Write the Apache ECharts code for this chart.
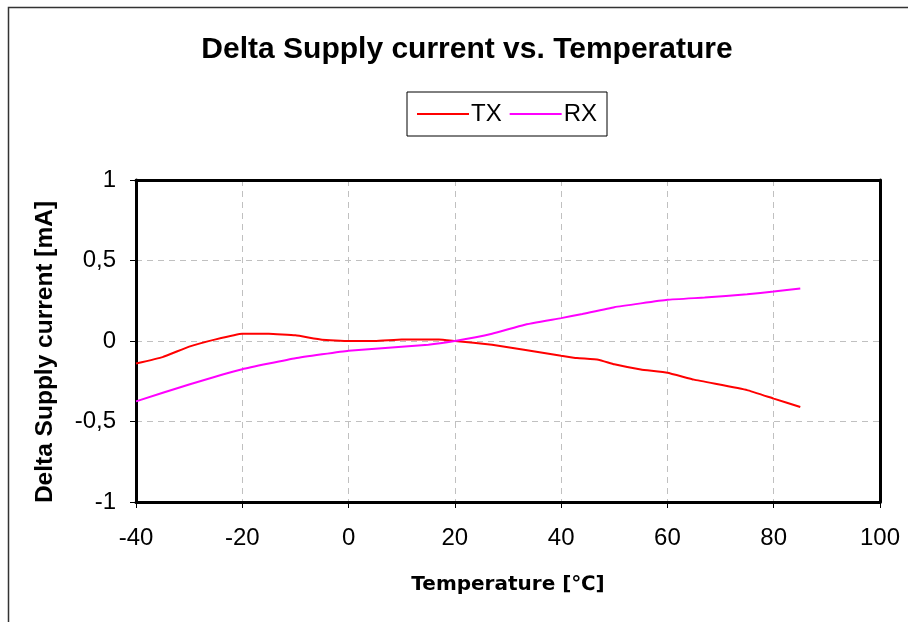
<!DOCTYPE html>
<html><head><meta charset="utf-8">
<script src="https://cdn.jsdelivr.net/npm/echarts@6/dist/echarts.min.js"></script>
<style>html,body{margin:0;padding:0;background:#fff}#c{width:908px;height:622px}</style>
</head><body><div id="c"></div>
<script>
const titleText = 'Delta Supply current vs. Temperature';
const xName = 'Temperature [℃]';
const yName = 'Delta Supply current [mA]';
const txTemps = [-40,-35,-30,-25,-20,-15,-10,-5,0,5,10,17,20,27,33,40,43,47,50,55,60,65,75,80,85];
const txValues = [-0.14,-0.10,-0.035,0.01,0.045,0.045,0.035,0.008,0.0,0.0,0.01,0.01,0.0,-0.023,-0.054,-0.091,-0.106,-0.116,-0.145,-0.177,-0.197,-0.24,-0.305,-0.358,-0.41];
const rxTemps = [-40,-30,-20,-10,0,15,20,27,33,40,44,50,60,67,75,80,85];
const rxValues = [-0.375,-0.27,-0.175,-0.107,-0.06,-0.023,0.0,0.045,0.1,0.142,0.168,0.21,0.256,0.27,0.29,0.307,0.326];

const chart = echarts.init(document.getElementById('c'));
const pair = (xs, ys) => xs.map((x, i) => [x, ys[i]]);
const labFont = {fontFamily: 'Liberation Sans', fontSize: 24, color: '#000'};
const split = {show: true, lineStyle: {color: '#c0c0c0', type: [6, 5], width: 1}};
chart.setOption({
  animation: false,
  backgroundColor: '#fff',
  graphic: [{type:'rect', shape:{x:8.5,y:7.5,width:1000,height:1000}, style:{fill:'none',stroke:'#333',lineWidth:1.5}, silent:true}],
  title: {text: titleText, left: 462, top: 30, textAlign: 'center',
    textStyle: {fontFamily: 'Liberation Sans', fontWeight: 'bold', fontSize: 30, color: '#000'}},
  legend: {left: 407, top: 92, itemGap: 8, padding: [10, 10, 10, 10],
    borderColor: '#000', borderWidth: 1, itemWidth: 52, itemHeight: 2, icon: 'rect',
    textStyle: {fontFamily: 'Liberation Sans', fontSize: 24, color: '#000', padding: [0,0,0,-3]},
    data: [{name:'TX'},{name:'RX'}]},
  grid: {left: 136, right: 28, top: 180, bottom: 120, show: false},
  xAxis: [{type: 'value', min: -40, max: 100, interval: 20,
    name: xName, nameLocation: 'middle', nameGap: 73,
    nameTextStyle: {fontFamily: 'DejaVu Sans', fontWeight: 'bold', fontSize: 20, color: '#000'},
    axisLine: {show: true, onZero: false, lineStyle: {color: '#000', width: 3}},
    axisTick: {show: true, length: 6, lineStyle: {color: '#000', width: 1}},
    axisLabel: Object.assign({margin: 24}, labFont),
    splitLine: split},
   {type: 'value', position: 'top', min: -40, max: 100, interval: 20,
    axisLine: {show: true, onZero: false, lineStyle: {color: '#000', width: 3}},
    axisTick: {show: false}, axisLabel: {show: false}, splitLine: {show: false}}],
  yAxis: [{type: 'value', min: -1, max: 1, interval: 0.5,
    name: yName, nameLocation: 'middle', nameGap: 78, nameRotate: 90,
    nameTextStyle: {fontFamily: 'Liberation Sans', fontWeight: 'bold', fontSize: 24.5, color: '#000', padding: [0, 22, 0, 0]},
    axisLine: {show: true, onZero: false, lineStyle: {color: '#000', width: 3}},
    axisTick: {show: true, length: 6, lineStyle: {color: '#000', width: 1}},
    axisLabel: Object.assign({margin: 20, formatter: v => String(v).replace('.', ',')}, labFont),
    splitLine: split},
   {type: 'value', position: 'right', min: -1, max: 1, interval: 0.5,
    axisLine: {show: true, onZero: false, lineStyle: {color: '#000', width: 3}},
    axisTick: {show: false}, axisLabel: {show: false}, splitLine: {show: false}}],
  series: [
    {name: 'TX', type: 'line', data: pair(txTemps, txValues), symbol: 'none', smooth: 0.1,
      lineStyle: {color: '#ff0000', width: 2}, itemStyle: {color: '#ff0000'}},
    {name: 'RX', type: 'line', data: pair(rxTemps, rxValues), symbol: 'none', smooth: 0.1,
      lineStyle: {color: '#ff00ff', width: 2}, itemStyle: {color: '#ff00ff'}}
  ]
});
</script></body></html>
